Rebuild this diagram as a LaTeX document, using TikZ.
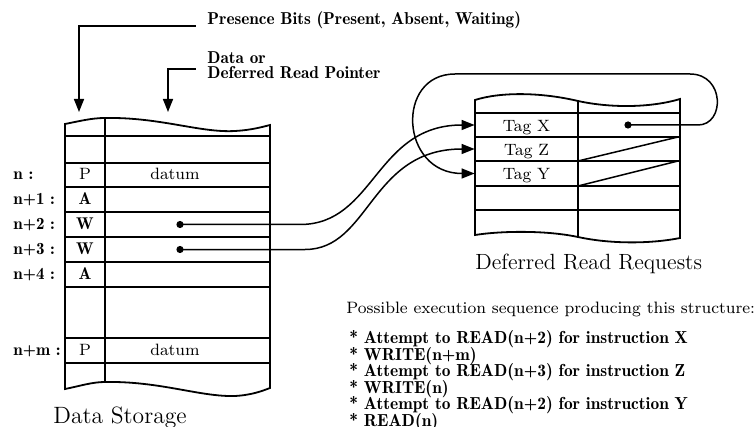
\documentclass[tikz,border=0pt]{standalone}
\usepackage{tikz}
\usetikzlibrary{arrows.meta, positioning}

\begin{document}
\begin{tikzpicture}[x=0.5pt,y=0.5pt,yscale=-1,xscale=1,
  tbl/.style={line width=0.9pt},
  wire/.style={line width=0.75pt},
  ptr/.style={line width=0.75pt,-{Triangle[length=6.5pt,width=5pt]}},
  dot/.style={circle,fill,inner sep=0pt,minimum size=3.6pt},
  cell/.style={inner sep=0pt,text height=5.5pt,text depth=0.5pt,font=\fontsize{8.2}{10}\selectfont},
  bit/.style={cell,font=\fontsize{8.5}{10}\fontseries{b}\selectfont},
  addr/.style={anchor=west,inner sep=0pt,text height=5.5pt,text depth=0.5pt,font=\fontsize{8.5}{10}\fontseries{b}\selectfont},
  tag/.style={cell,text height=7pt,minimum width=51.5pt},
  note/.style={inner sep=0.75pt,font=\fontsize{8.6}{7.2}\fontseries{b}\selectfont},
  caption/.style={inner sep=0pt,anchor=base west,font=\fontsize{11}{13}\selectfont}]
\useasboundingbox (0,0) rectangle (754,427);

%Shape: Data Storage outline
\draw [tbl] (65,124) .. controls (80,121) and (92,118) .. (105,118) .. controls (160,117) and (200,133) .. (235,131) .. controls (252,130) and (262,127) .. (270,125) -- (270,388) .. controls (262,391) and (252,395) .. (235,396) .. controls (200,397) and (160,381) .. (105,382) .. controls (92,382) and (80,386) .. (65,389) -- cycle ;
%Straight Lines
\draw [tbl] (105,118) -- (105,382) ;
\draw [tbl] (65,136) -- (270,136) ;
\draw [tbl] (65,163) -- (270,163) ;
\draw [tbl] (65,187) -- (270,187) ;
\draw [tbl] (65,212) -- (270,212) ;
\draw [tbl] (65,237) -- (270,237) ;
\draw [tbl] (65,262) -- (270,262) ;
\draw [tbl] (65,287) -- (270,287) ;
\draw [tbl] (65,338) -- (270,338) ;
\draw [tbl] (65,363) -- (270,363) ;

%Shape: Deferred Read Requests outline
\draw [tbl] (475,100) .. controls (500,92) and (540,92) .. (578,101) .. controls (610,108) and (650,108) .. (680,99) -- (680,238) .. controls (650,244) and (610,244) .. (578,237) .. controls (545,230) and (500,231) .. (475,235) -- cycle ;
%Straight Lines
\draw [tbl] (578,101) -- (578,237) ;
\draw [tbl] (475,113) -- (680,113) ;
\draw [tbl] (475,137) -- (680,137) ;
\draw [tbl] (475,161) -- (680,161) ;
\draw [tbl] (475,186) -- (680,186) ;
\draw [tbl] (475,210) -- (680,210) ;
\draw [wire] (578,161) -- (678,137) ;
\draw [wire] (578,186) -- (678,161) ;

% Text Node: addresses
\node [addr] (an) at (13,175) {n :};
\node [addr] (an1) at (13,199.5) {n+1 :};
\node [addr] (an2) at (13,224.5) {n+2 :};
\node [addr] (an3) at (13,249.5) {n+3 :};
\node [addr] (an4) at (13,274.5) {n+4 :};
\node [addr] (anm) at (13,350.5) {n+m :};
% Text Node: presence bits and data
\node [cell] (pn) at (85,175) {P};
\node [cell] (dn) at (175,175) {datum};
\node [bit] (pn1) at (85,199.5) {A};
\node [bit] (pn2) at (85,224.5) {W};
\node [bit] (pn3) at (85,249.5) {W};
\node [bit] (pn4) at (85,274.5) {A};
\node [cell] (pnm) at (85,350.5) {P};
\node [cell] (dnm) at (175,350.5) {datum};
\node [dot] (w2) at (180,224.5) {};
\node [dot] (w3) at (180,249.5) {};
% Text Node: tags
\node [tag] (tx) at (526.5,125) {Tag X};
\node [tag] (tz) at (526.5,149) {Tag Z};
\node [tag] (ty) at (526.5,173.5) {Tag Y};
\node [dot] (px) at (628,125) {};

% Text Node: headings
\node [note, anchor=base west] (pb) at (205.5,25) {Presence Bits (Present, Absent, Waiting)};
\node [note, anchor=north west, align=left] (dp) at (205.5,50) {Data or\\Deferred Read Pointer};
\coordinate (pbtip) at (79,112);
\coordinate (dptip) at (168,112);
\draw [ptr] ([xshift=-5pt,yshift=0.5pt]pb.base west) -| (pbtip) ;
\draw [ptr] ([xshift=-5pt,yshift=2pt]dp.west) -| (dptip) ;

%Curves: deferred read pointers
\draw [ptr] (w2.center) -- (300,224.5) .. controls (375,224.5) and (375,125) .. (tx.west) ;
\draw [ptr] (w3.center) -- (305,249.5) .. controls (370,249.5) and (370,149) .. (tz.west) ;
\draw [ptr] (px.center) -- (698,125) .. controls (725,125) and (725,74) .. (690,74) -- (455,74) .. controls (395,74) and (400,173.5) .. (ty.west) ;

% Text Node: captions
\node [caption, font=\fontsize{11.8}{13}\selectfont] (ds) at (53,423) {Data Storage};
\node [caption] (drr) at (475,270) {Deferred Read Requests};
\node [anchor=base west, inner sep=0pt, font=\fontsize{8.25}{10}\selectfont] (pes) at (346,313) {Possible execution sequence producing this structure:};
\node [anchor=north west, align=left, inner sep=0pt, font={\fontsize{8.7}{8.3}\fontseries{b}\selectfont\setlength{\lineskiplimit}{-5pt}}] (seq) at (349,330) {* Attempt to READ(n+2) for instruction X\\* WRITE(n+m)\\* Attempt to READ(n+3) for instruction Z\\* WRITE(n)\\* Attempt to READ(n+2) for instruction Y\\* READ(n)};

\end{tikzpicture}
\end{document}
